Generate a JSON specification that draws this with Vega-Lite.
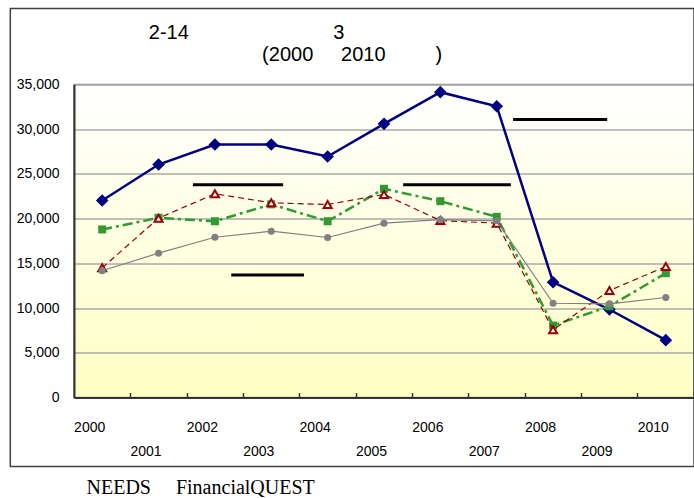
{
  "$schema": "https://vega.github.io/schema/vega-lite/v6.json",
  "width": 620,
  "height": 313,
  "padding": {"left": 9, "top": 7.5, "right": 1, "bottom": 0},
  "background": "white",
  "config": {
    "view": {
      "fill": {"gradient": "linear", "x1": 0, "y1": 0, "x2": 0, "y2": 1,
        "stops": [{"offset": 0, "color": "#ffffff"}, {"offset": 1, "color": "#ffffc4"}]},
      "stroke": "#8c8c8c",
      "strokeWidth": 1.5
    },
    "font": "Liberation Sans"
  },
  "title": {
    "text": [
      "2-14\u00a0\u00a0\u00a0\u00a0\u00a0\u00a0\u00a0\u00a0\u00a0\u00a0\u00a0\u00a0\u00a0\u00a0\u00a0\u00a0\u00a0\u00a0\u00a0\u00a0\u00a0\u00a0\u00a0\u00a0\u00a0\u00a03\u00a0\u00a0\u00a0\u00a0\u00a0\u00a0\u00a0\u00a0\u00a0\u00a0\u00a0\u00a0\u00a0\u00a0\u00a0\u00a0\u00a0\u00a0\u00a0\u00a0\u00a0\u00a0\u00a0\u00a0\u00a0\u00a0\u00a0\u00a0\u00a0\u00a0\u00a0\u00a0\u00a0\u00a0\u00a0\u00a0\u00a0\u00a0\u200b",
      "(2000\u00a0\u00a0\u00a0\u00a0\u00a02010\u00a0\u00a0\u00a0\u00a0\u00a0\u00a0\u00a0\u00a0\u00a0)"
    ],
    "font": "Liberation Sans",
    "fontSize": 20,
    "fontWeight": "normal",
    "color": "black",
    "lineHeight": 22,
    "anchor": "middle",
    "frame": "bounds",
    "baseline": "bottom",
    "offset": -77
  },
  "datasets": {
    "frame": [{"year": 1998.37, "year2": 2010.5, "value": 43500, "value2": -7720}],
    "labelLines": [
      {"year": 2007.29, "year2": 2008.96, "value": 31100},
      {"year": 2001.61, "year2": 2003.21, "value": 23800},
      {"year": 2005.34, "year2": 2007.25, "value": 23800},
      {"year": 2002.29, "year2": 2003.58, "value": 13700}
    ],
    "blue": [
      {"year": 2000, "value": 22030}, {"year": 2001, "value": 26050}, {"year": 2002, "value": 28290},
      {"year": 2003, "value": 28290}, {"year": 2004, "value": 26950}, {"year": 2005, "value": 30600},
      {"year": 2006, "value": 34140}, {"year": 2007, "value": 32570}, {"year": 2008, "value": 12890},
      {"year": 2009, "value": 9840}, {"year": 2010, "value": 6410}
    ],
    "green": [
      {"year": 2000, "value": 18790}, {"year": 2001, "value": 20100}, {"year": 2002, "value": 19710},
      {"year": 2003, "value": 21600}, {"year": 2004, "value": 19710}, {"year": 2005, "value": 23340},
      {"year": 2006, "value": 21950}, {"year": 2007, "value": 20200}, {"year": 2008, "value": 8050},
      {"year": 2009, "value": 10200}, {"year": 2010, "value": 13900}
    ],
    "red": [
      {"year": 2000, "value": 14500}, {"year": 2001, "value": 20050}, {"year": 2002, "value": 22780},
      {"year": 2003, "value": 21770}, {"year": 2004, "value": 21580}, {"year": 2005, "value": 22700},
      {"year": 2006, "value": 19790}, {"year": 2007, "value": 19490}, {"year": 2008, "value": 7570},
      {"year": 2009, "value": 11960}, {"year": 2010, "value": 14650}
    ],
    "gray": [
      {"year": 2000, "value": 14170}, {"year": 2001, "value": 16140}, {"year": 2002, "value": 17920},
      {"year": 2003, "value": 18600}, {"year": 2004, "value": 17890}, {"year": 2005, "value": 19490},
      {"year": 2006, "value": 19900}, {"year": 2007, "value": 19760}, {"year": 2008, "value": 10540},
      {"year": 2009, "value": 10480}, {"year": 2010, "value": 11180}
    ]
  },
  "encoding": {
    "x": {
      "field": "year",
      "type": "quantitative",
      "scale": {"domain": [1999.5, 2010.5], "nice": false, "zero": false},
      "axis": {
        "values": [2000, 2001, 2002, 2003, 2004, 2005, 2006, 2007, 2008, 2009, 2010],
        "format": "d",
        "labelExpr": "datum.value % 2 === 1 ? ['', datum.label] : datum.label",
        "labelLineHeight": 24,
        "grid": false,
        "domainColor": "#333333",
        "domainWidth": 2,
        "tickColor": "#333333",
        "tickWidth": 1.5,
        "tickSize": -5,
        "tickOffset": 28,
        "labelOffset": -41,
        "labelPadding": 28,
        "labelBaseline": "top",
        "labelFont": "Liberation Sans",
        "labelFontSize": 14,
        "labelColor": "black",
        "labelOverlap": false,
        "labelFlush": false,
        "title": "NEEDS\u00a0\u00a0\u00a0\u00a0\u00a0FinancialQUEST",
        "titleFont": "Liberation Serif",
        "titleFontSize": 20,
        "titleFontWeight": "normal",
        "titleColor": "black",
        "titleAnchor": "start",
        "titleAlign": "left",
        "titleBaseline": "alphabetic",
        "titleX": 12,
        "titleY": 96
      }
    },
    "y": {
      "field": "value",
      "type": "quantitative",
      "scale": {"domain": [0, 35000], "nice": false},
      "axis": {
        "values": [0, 5000, 10000, 15000, 20000, 25000, 30000, 35000],
        "format": ",.0f",
        "grid": true,
        "gridColor": "#a8a8a8",
        "gridWidth": 1.5,
        "ticks": false,
        "domainColor": "#333333",
        "domainWidth": 2,
        "labelPadding": 15,
        "labelFont": "Liberation Sans",
        "labelFontSize": 14,
        "labelColor": "black",
        "title": null
      }
    }
  },
  "layer": [
    {
      "data": {"name": "frame"},
      "mark": {"type": "rect", "fillOpacity": 0, "stroke": "#404040", "strokeWidth": 1.5},
      "encoding": {"x2": {"field": "year2"}, "y2": {"field": "value2"}}
    },
    {
      "data": {"name": "labelLines"},
      "mark": {"type": "rule", "color": "black", "strokeWidth": 3},
      "encoding": {"x2": {"field": "year2"}}
    },
    {
      "data": {"name": "blue"},
      "mark": {"type": "line", "color": "#000080", "strokeWidth": 2.5},
      "encoding": {}
    },
    {
      "data": {"name": "blue"},
      "mark": {"type": "point", "shape": "diamond", "filled": true, "color": "#000080", "size": 160, "opacity": 1},
      "encoding": {}
    },
    {
      "data": {"name": "green"},
      "mark": {"type": "line", "color": "#339933", "strokeWidth": 2.5, "strokeDash": [10, 4, 3, 4]},
      "encoding": {}
    },
    {
      "data": {"name": "green"},
      "mark": {"type": "point", "shape": "square", "filled": true, "color": "#339933", "size": 64, "opacity": 1},
      "encoding": {}
    },
    {
      "data": {"name": "red"},
      "mark": {"type": "line", "color": "#990000", "strokeWidth": 1.2, "strokeDash": [6, 4]},
      "encoding": {}
    },
    {
      "data": {"name": "red"},
      "mark": {"type": "point", "shape": "triangle-up", "filled": true, "fill": "white", "stroke": "#990000", "strokeWidth": 2, "size": 64, "opacity": 1},
      "encoding": {}
    },
    {
      "data": {"name": "gray"},
      "mark": {"type": "line", "color": "#808080", "strokeWidth": 1.2},
      "encoding": {}
    },
    {
      "data": {"name": "gray"},
      "mark": {"type": "point", "shape": "circle", "filled": true, "color": "#808080", "size": 50, "opacity": 1},
      "encoding": {}
    }
  ]
}
